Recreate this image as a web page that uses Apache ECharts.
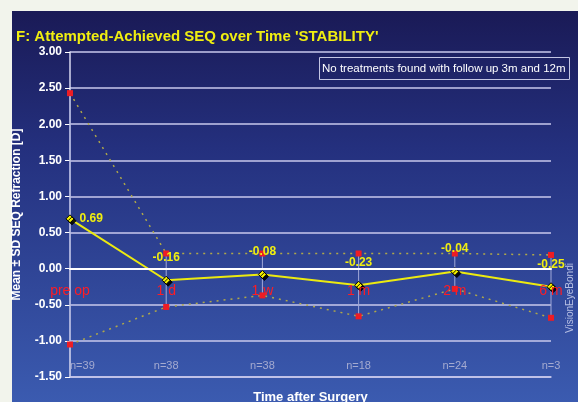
<!DOCTYPE html>
<html>
<head>
<meta charset="utf-8">
<script src="https://cdn.jsdelivr.net/npm/echarts@6/dist/echarts.min.js"></script>
<style>
  html, body { margin: 0; padding: 0; background: #f2f4ec; }
  #chart { width: 578px; height: 402px; }
</style>
</head>
<body>
<div id="chart"></div>
<script>
(function () {
    // follow-up visits
    var categories = ['pre op', '1 d', '1 w', '1 m', '2 m', '6 m'];
    var counts = ['n=39', 'n=38', 'n=38', 'n=18', 'n=24', 'n=3'];
    // attempted-achieved SEQ [D]
    var meanSEQ = [0.69, -0.16, -0.08, -0.23, -0.04, -0.25];
    var upperSD = [2.43, 0.21, 0.21, 0.21, 0.21, 0.19];
    var lowerSD = [-1.05, -0.53, -0.37, -0.66, -0.28, -0.68];

    var chart = echarts.init(document.getElementById('chart'));
    var font = 'Liberation Sans, Arial, sans-serif';

    var gridTop = 52, gridBottom = 25;
    var yMin = -1.5, yMax = 3;
    var plotH = 402 - gridTop - gridBottom;
    // move the visit-name axis up onto the zero line
    var zeroOffset = -plotH * (0 - yMin) / (yMax - yMin);

    var option = {
        backgroundColor: '#f2f4ec',
        animation: false,
        title: {
            text: "F: Attempted-Achieved SEQ over Time 'STABILITY'",
            left: 11,
            top: 24,
            textStyle: { color: '#f0ee10', fontSize: 15, fontWeight: 'bold', fontFamily: font }
        },
        graphic: [
            {
                type: 'rect', z: -100, silent: true,
                shape: { x: 12, y: 11, width: 566, height: 391 },
                style: {
                    fill: new echarts.graphic.LinearGradient(0, 0, 0, 1, [
                        { offset: 0, color: '#1a1a56' },
                        { offset: 0.35, color: '#24307e' },
                        { offset: 1, color: '#3b5bb0' }
                    ])
                }
            },
            {
                type: 'rect', z: 10,
                shape: { x: 319.5, y: 57.5, width: 250, height: 22 },
                style: { fill: 'none', stroke: '#c4c6e4', lineWidth: 1 }
            },
            {
                type: 'text', z: 10, x: 322, y: 69,
                style: {
                    text: 'No treatments found with follow up 3m and 12m',
                    fill: '#ffffff', font: '11.5px ' + font, verticalAlign: 'middle'
                }
            },
            {
                type: 'text', z: 10, x: 570, y: 298, rotation: Math.PI / 2,
                style: {
                    text: 'VisionEyeBondi', fill: '#b8c0e4', font: '10px ' + font,
                    align: 'center', verticalAlign: 'middle'
                }
            }
        ],
        grid: { left: 70, right: 27, top: gridTop, bottom: gridBottom, outerBoundsMode: 'none', containLabel: false },
        xAxis: [
            {
                type: 'category',
                data: counts,
                boundaryGap: false,
                position: 'bottom',
                name: 'Time after Surgery',
                nameLocation: 'middle',
                nameGap: 14,
                nameTextStyle: { color: '#ffffff', fontSize: 13, fontWeight: 'bold', fontFamily: font },
                axisLine: { onZero: false, lineStyle: { color: '#c8c8ec', width: 1.5 } },
                axisTick: { show: false },
                axisLabel: {
                    inside: true, margin: 6, color: '#a4aad0', fontSize: 11, fontFamily: font,
                    alignMinLabel: 'left'
                },
                splitLine: { show: false }
            },
            {
                type: 'category',
                data: categories,
                boundaryGap: false,
                position: 'bottom',
                offset: zeroOffset,
                z: 10,
                axisLine: { onZero: false, lineStyle: { color: '#ffffff', width: 2 } },
                axisTick: { show: false },
                axisLabel: { margin: 15, color: '#ff1c24', fontSize: 14, fontFamily: font },
                splitLine: { show: false }
            }
        ],
        yAxis: {
            type: 'value',
            min: yMin,
            max: yMax,
            interval: 0.5,
            name: 'Mean \u00b1 SD SEQ Refraction [D]',
            nameLocation: 'middle',
            nameGap: 47,
            nameTextStyle: { color: '#ffffff', fontSize: 12, fontWeight: 'bold', fontFamily: font },
            axisLine: { show: true, lineStyle: { color: '#d8d8f0', width: 1.5 } },
            axisTick: { show: true, length: 5, lineStyle: { color: '#ffffff' } },
            axisLabel: {
                color: '#ffffff', fontSize: 12, fontWeight: 'bold', fontFamily: font, margin: 8,
                formatter: function (v) { return v.toFixed(2); }
            },
            splitLine: { lineStyle: { color: '#c8c8ec', width: 1.5 } }
        },
        series: [
            {
                type: 'custom',
                z: 1,
                data: categories.map(function (c, i) { return [i, lowerSD[i], upperSD[i]]; }),
                renderItem: function (params, api) {
                    var lo = api.coord([api.value(0), api.value(1)]);
                    var hi = api.coord([api.value(0), api.value(2)]);
                    return {
                        type: 'line',
                        shape: { x1: lo[0], y1: lo[1], x2: hi[0], y2: hi[1] },
                        style: { stroke: '#a0a8d8', lineWidth: 1 }
                    };
                }
            },
            {
                name: 'Mean + SD',
                type: 'line',
                z: 3,
                data: upperSD,
                symbol: 'rect',
                symbolSize: 6,
                itemStyle: { color: '#ee1c24' },
                lineStyle: { color: '#b0a848', width: 1.5, type: [2, 5] }
            },
            {
                name: 'Mean - SD',
                type: 'line',
                z: 3,
                data: lowerSD,
                symbol: 'rect',
                symbolSize: 6,
                itemStyle: { color: '#ee1c24' },
                lineStyle: { color: '#b0a848', width: 1.5, type: [2, 5] }
            },
            {
                name: 'Mean',
                type: 'line',
                z: 5,
                data: meanSEQ.map(function (v, i) {
                    var item = { value: v };
                    if (i === 0) {
                        item.label = { position: 'right', distance: 5 };
                    }
                    return item;
                }),
                symbol: 'diamond',
                symbolSize: 8,
                itemStyle: {
                    color: '#f4f000', borderColor: '#000000', borderWidth: 1,
                    shadowColor: 'rgba(0,0,0,0.9)', shadowOffsetX: 2, shadowOffsetY: 2
                },
                lineStyle: { color: '#ecea10', width: 2 },
                label: {
                    show: true,
                    position: 'top',
                    distance: 12,
                    color: '#f0ee10',
                    fontSize: 12,
                    fontWeight: 'bold',
                    fontFamily: font,
                    formatter: function (p) { return p.value.toFixed(2); }
                }
            }
        ]
    };

    chart.setOption(option);
})();
</script>
</body>
</html>
